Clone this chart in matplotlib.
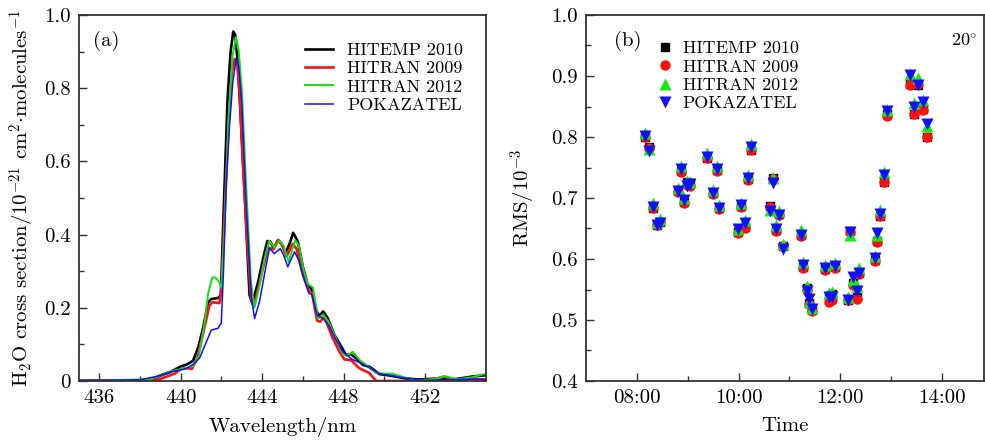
import matplotlib
matplotlib.use("Agg")
import matplotlib.pyplot as plt
from matplotlib.ticker import MultipleLocator, FixedLocator

plt.rcParams['font.family'] = ['cmr10', 'DejaVu Serif']
plt.rcParams['mathtext.fontset'] = 'cm'
plt.rcParams['axes.unicode_minus'] = False

# ---------------- panel (a) data ----------------
series_names = ["HITEMP 2010", "HITRAN 2009", "HITRAN 2012", "POKAZATEL"]

wl_hitemp = [435.0, 438.0, 438.6, 439.0, 439.5, 440.0, 440.3, 440.6, 440.85, 441.1, 441.35, 441.5,
             441.85, 441.97, 442.1, 442.3, 442.45, 442.58, 442.68, 442.8, 442.9, 443.15, 443.38,
             443.52, 443.8, 444.05, 444.25, 444.38, 444.58, 444.78, 444.95, 445.15, 445.35, 445.52,
             445.75, 446.0, 446.25, 446.42, 446.65, 446.8, 447.0, 447.22, 447.55, 447.9, 448.12,
             448.37, 448.62, 448.95, 449.28, 449.75, 450.25, 451.05, 451.7, 452.7, 453.5, 454.3, 455.0]
xs_hitemp = [0.0, 0.002, 0.005, 0.015, 0.025, 0.04, 0.045, 0.055, 0.09, 0.145, 0.215, 0.224,
             0.227, 0.235, 0.45, 0.77, 0.9, 0.955, 0.945, 0.87, 0.77, 0.50, 0.235,
             0.212, 0.27, 0.335, 0.382, 0.382, 0.363, 0.385, 0.375, 0.35, 0.375, 0.405,
             0.382, 0.312, 0.26, 0.253, 0.194, 0.178, 0.19, 0.172, 0.126, 0.093, 0.071,
             0.073, 0.062, 0.044, 0.039, 0.019, 0.015, 0.007, 0.004, 0.007, 0.005, 0.012, 0.016]

wl_hitran09 = [435.0, 438.8, 439.2, 439.7, 440.0, 440.3, 440.55, 440.8, 441.1, 441.4, 441.55, 441.9,
               442.0, 442.15, 442.35, 442.5, 442.65, 442.78, 442.9, 443.05, 443.25, 443.45, 443.58,
               443.8, 444.05, 444.3, 444.55, 444.8, 445.0, 445.2, 445.5, 445.7, 446.0, 446.3, 446.45,
               446.7, 446.85, 447.06, 447.2, 447.47, 447.8, 448.04, 448.37, 448.77, 449.26, 449.6,
               450.0, 452.0, 452.5, 452.94, 453.5, 454.3, 455.0]
xs_hitran09 = [0.0, 0.002, 0.01, 0.02, 0.033, 0.035, 0.033, 0.06, 0.13, 0.205, 0.215, 0.213,
               0.25, 0.45, 0.7, 0.84, 0.88, 0.865, 0.78, 0.6, 0.4, 0.225, 0.205,
               0.25, 0.31, 0.365, 0.36, 0.385, 0.37, 0.34, 0.375, 0.36, 0.29, 0.245, 0.24,
               0.165, 0.162, 0.176, 0.155, 0.117, 0.08, 0.059, 0.057, 0.035, 0.022, 0.0,
               0.0, 0.0, 0.006, 0.012, 0.002, 0.006, 0.004]

wl_hitran12 = [435.0, 438.5, 439.0, 439.4, 439.8, 440.2, 440.6, 440.9, 441.15, 441.35, 441.55, 441.7,
               441.9, 442.0, 442.15, 442.35, 442.55, 442.72, 442.85, 443.0, 443.2, 443.45, 443.62,
               443.85, 444.1, 444.35, 444.6, 444.85, 445.05, 445.3, 445.62, 445.8, 446.05, 446.25,
               446.5, 446.75, 447.0, 447.3, 447.6, 447.95, 448.2, 448.45, 448.8, 449.2, 449.6, 450.0,
               450.4, 451.0, 451.6, 452.4, 453.0, 453.6, 454.3, 455.0]
xs_hitran12 = [0.0, 0.005, 0.015, 0.025, 0.03, 0.035, 0.04, 0.07, 0.15, 0.24, 0.283, 0.283,
               0.27, 0.255, 0.42, 0.72, 0.89, 0.94, 0.9, 0.8, 0.55, 0.27, 0.2,
               0.255, 0.33, 0.383, 0.365, 0.383, 0.37, 0.325, 0.385, 0.37, 0.3, 0.265,
               0.255, 0.17, 0.182, 0.158, 0.12, 0.075, 0.07, 0.08, 0.057, 0.04, 0.022, 0.02,
               0.02, 0.01, 0.002, 0.005, 0.013, 0.005, 0.01, 0.02]

wl_pokazatel = [435.0, 438.0, 439.0, 439.5, 440.0, 440.3, 440.6, 440.93, 441.26, 441.5, 441.83, 441.99,
                442.1, 442.24, 442.4, 442.56, 442.73, 442.85, 443.0, 443.2, 443.47, 443.63, 443.87,
                444.17, 444.36, 444.6, 444.89, 445.05, 445.26, 445.59, 445.8, 446.05, 446.3, 446.45,
                446.7, 447.0, 447.3, 447.6, 447.96, 448.4, 449.0, 449.75, 450.3, 451.0, 452.0, 453.0,
                454.0, 455.0]
xs_pokazatel = [0.002, 0.003, 0.015, 0.025, 0.03, 0.035, 0.045, 0.063, 0.107, 0.139, 0.144, 0.158,
                0.3, 0.545, 0.7, 0.818, 0.881, 0.86, 0.76, 0.5, 0.226, 0.171, 0.217,
                0.308, 0.363, 0.348, 0.362, 0.345, 0.312, 0.353, 0.33, 0.28, 0.24, 0.235,
                0.18, 0.17, 0.15, 0.115, 0.08, 0.06, 0.045, 0.02, 0.015, 0.008, 0.002, 0.003,
                0.005, 0.004]

# ---------------- panel (b) data ----------------
time_h = [8.16, 8.24, 8.31, 8.39, 8.46, 8.80, 8.87, 8.93, 8.98, 9.05, 9.38, 9.50, 9.57, 9.62,
          9.99, 10.05, 10.12, 10.18, 10.24, 10.62, 10.67, 10.73, 10.80, 10.87, 11.22, 11.27,
          11.34, 11.39, 11.45, 11.71, 11.78, 11.83, 11.90, 12.15, 12.20, 12.25, 12.32, 12.36,
          12.68, 12.73, 12.79, 12.86, 12.92, 13.37, 13.45, 13.53, 13.63, 13.71]
rms_hitemp = [0.800, 0.783, 0.684, 0.656, 0.660, 0.712, 0.745, 0.693, 0.727, 0.724, 0.765, 0.708,
              0.746, 0.683, 0.645, 0.687, 0.653, 0.731, 0.779, 0.687, 0.732, 0.648, 0.673, 0.621,
              0.640, 0.587, 0.553, 0.528, 0.517, 0.583, 0.540, 0.542, 0.587, 0.533, 0.646, 0.560,
              0.537, 0.577, 0.598, 0.630, 0.671, 0.727, 0.837, 0.887, 0.838, 0.886, 0.846, 0.800]
rms_hitran09 = [0.800, 0.782, 0.683, 0.655, 0.660, 0.710, 0.742, 0.692, 0.722, 0.720, 0.765, 0.707,
                0.745, 0.682, 0.643, 0.686, 0.651, 0.730, 0.778, 0.686, 0.731, 0.646, 0.672, 0.621,
                0.638, 0.585, 0.550, 0.526, 0.515, 0.582, 0.530, 0.532, 0.586, 0.533, 0.645, 0.558,
                0.535, 0.576, 0.596, 0.628, 0.670, 0.726, 0.835, 0.886, 0.838, 0.887, 0.845, 0.800]
rms_hitran12 = [0.806, 0.780, 0.691, 0.660, 0.665, 0.716, 0.752, 0.700, 0.728, 0.727, 0.773, 0.713,
                0.752, 0.689, 0.650, 0.692, 0.664, 0.738, 0.788, 0.680, 0.732, 0.655, 0.678, 0.625,
                0.648, 0.595, 0.556, 0.530, 0.520, 0.590, 0.545, 0.546, 0.593, 0.538, 0.640, 0.565,
                0.555, 0.585, 0.605, 0.640, 0.680, 0.742, 0.845, 0.903, 0.856, 0.897, 0.860, 0.818]
rms_pokazatel = [0.801, 0.777, 0.686, 0.655, 0.659, 0.711, 0.747, 0.696, 0.720, 0.723, 0.767, 0.708,
                 0.748, 0.684, 0.649, 0.688, 0.659, 0.732, 0.783, 0.678, 0.725, 0.649, 0.672, 0.617,
                 0.639, 0.590, 0.548, 0.535, 0.518, 0.585, 0.537, 0.538, 0.588, 0.533, 0.645, 0.570,
                 0.547, 0.577, 0.602, 0.642, 0.673, 0.738, 0.843, 0.901, 0.850, 0.886, 0.858, 0.821]

time_ticks = [8, 10, 12, 14]
time_labels = ["08:00", "10:00", "12:00", "14:00"]

FS = 15
LFS = 13
fig = plt.figure(figsize=(9.85, 4.4), dpi=100)
axa = fig.add_axes([79/985, 59/440, 407/985, 366/440])
axb = fig.add_axes([586/985, 59/440, 398.3/985, 366/440])

spine_col = '#333333'
for ax in (axa, axb):
    for s in ax.spines.values():
        s.set_color(spine_col)
        s.set_linewidth(1.3)
    ax.tick_params(which='both', direction='in', top=False, right=False, labelsize=FS,
                   color=spine_col)
    ax.tick_params(which='major', length=6, width=1.0, pad=6)
    ax.tick_params(which='minor', length=3.5, width=1.0)

# panel (a)
axa.plot(wl_hitemp, xs_hitemp, color='black', lw=1.9, label=series_names[0])
axa.plot(wl_hitran09, xs_hitran09, color='#ff1010', lw=1.9, label=series_names[1])
axa.plot(wl_hitran12, xs_hitran12, color='#10e010', lw=1.4, label=series_names[2])
axa.plot(wl_pokazatel, xs_pokazatel, color='#1010ff', lw=1.1, label=series_names[3])
axa.set_xlim(435, 455)
axa.set_ylim(0, 1.0)
axa.xaxis.set_major_locator(FixedLocator([436, 440, 444, 448, 452]))
axa.xaxis.set_minor_locator(FixedLocator([438, 442, 446, 450, 454]))
axa.set_yticks([0, 0.2, 0.4, 0.6, 0.8, 1.0])
axa.set_yticklabels(["0", "0.2", "0.4", "0.6", "0.8", "1.0"])
axa.yaxis.set_minor_locator(MultipleLocator(0.1))
axa.set_xlabel("Wavelength/nm", fontsize=FS, labelpad=7)
axa.set_ylabel(r"H$_2$O cross section/10$^{-21}$ cm$^2$$\cdot$molecules$^{-1}$", fontsize=FS, labelpad=5)
axa.text(0.035, 0.93, "(a)", transform=axa.transAxes, fontsize=FS, va='center', ha='left')
axa.legend(loc='upper left', bbox_to_anchor=(0.555, 0.925), frameon=False, fontsize=LFS,
           handlelength=1.55, handletextpad=0.8, labelspacing=0.15, borderaxespad=0, borderpad=0)

# panel (b)
axb.plot(time_h, rms_hitemp, ls='none', marker='s', ms=6, color='black', label=series_names[0])
axb.plot(time_h, rms_hitran09, ls='none', marker='o', ms=7.5, color='#ff1010', mec='none', label=series_names[1])
axb.plot(time_h, rms_hitran12, ls='none', marker='^', ms=8, color='#10ee10', mec='none', label=series_names[2])
axb.plot(time_h, rms_pokazatel, ls='none', marker='v', ms=8, color='#1010ff', mec='none', label=series_names[3])
axb.set_xlim(7.0, 14.833)
axb.set_ylim(0.4, 1.0)
axb.set_xticks(time_ticks)
axb.set_xticklabels(time_labels)
axb.xaxis.set_minor_locator(FixedLocator([9, 11, 13]))
axb.set_yticks([0.4, 0.5, 0.6, 0.7, 0.8, 0.9, 1.0])
axb.set_yticklabels(["0.4", "0.5", "0.6", "0.7", "0.8", "0.9", "1.0"])
axb.yaxis.set_minor_locator(MultipleLocator(0.05))
axb.set_xlabel("Time", fontsize=FS, labelpad=7)
axb.set_ylabel(r"RMS/10$^{-3}$", fontsize=FS, labelpad=9)
axb.text(0.07, 0.93, "(b)", transform=axb.transAxes, fontsize=FS, va='center', ha='left')
axb.text(0.982, 0.93, r"20$^{\circ}$", transform=axb.transAxes, fontsize=LFS, va='center', ha='right')
axb.legend(loc='upper left', bbox_to_anchor=(0.175, 0.93), frameon=False, fontsize=LFS,
           handlelength=1.0, handletextpad=0.5, labelspacing=0.15, borderaxespad=0, borderpad=0)

fig.savefig("out.png", dpi=100)
